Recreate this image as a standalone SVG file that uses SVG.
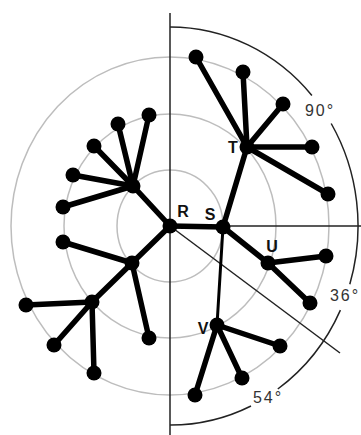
<svg xmlns="http://www.w3.org/2000/svg" width="361" height="435" viewBox="0 0 361 435">
<style>
.ring{fill:none;stroke:#bdbdbd;stroke-width:1.5}
.axis{fill:none;stroke:#222;stroke-width:1.5}
.edge{stroke:#000;stroke-width:5.5;stroke-linecap:round}
.thin{stroke:#000;stroke-width:3;stroke-linecap:round}
.leaf{fill:#000}
.lbl{font-family:"Liberation Sans",Arial,sans-serif;font-size:16px;font-weight:bold;fill:#111}
.deg{font-family:"Liberation Sans",Arial,sans-serif;font-size:16px;fill:#333;letter-spacing:2px}
</style>
<rect width="361" height="435" fill="#fff"/>
<g id="rings">
<ellipse class="ring" cx="170" cy="226" rx="53" ry="56"/>
<ellipse class="ring" cx="170" cy="226" rx="106" ry="112"/>
<ellipse class="ring" cx="170" cy="226" rx="159" ry="169"/>
</g>
<g id="axes">
<line class="axis" x1="170" y1="13" x2="170" y2="435"/>
<line class="axis" x1="170" y1="226" x2="361" y2="226"/>
<line class="axis" x1="170" y1="226" x2="340" y2="353"/>
<path class="axis" d="M170,27 A188,199 0 0,1 311.9,95.5 M331.2,123.5 A188,199 0 0,1 349.8,284.2 M340.4,310.1 A188,199 0 0,1 277.8,389 M251,406 A188,199 0 0,1 170,425"/>
</g>
<g id="connectors">
<line class="edge" x1="170" y1="226" x2="223" y2="227"/>
<line class="edge" x1="170" y1="226" x2="133" y2="186"/>
<line class="edge" x1="170" y1="226" x2="132" y2="263"/>
<line class="edge" x1="133" y1="186" x2="149" y2="115"/>
<line class="edge" x1="133" y1="186" x2="118" y2="124"/>
<line class="edge" x1="133" y1="186" x2="94" y2="146"/>
<line class="edge" x1="133" y1="186" x2="73" y2="175"/>
<line class="edge" x1="133" y1="186" x2="63" y2="207"/>
<line class="edge" x1="132" y1="263" x2="63" y2="242"/>
<line class="edge" x1="132" y1="263" x2="149" y2="338"/>
<line class="edge" x1="132" y1="263" x2="92" y2="302"/>
<line class="edge" x1="92" y1="302" x2="26" y2="305"/>
<line class="edge" x1="92" y1="302" x2="54" y2="345"/>
<line class="edge" x1="92" y1="302" x2="94" y2="373"/>
<line class="edge" x1="223" y1="227" x2="247" y2="147"/>
<line class="edge" x1="247" y1="147" x2="196" y2="57"/>
<line class="edge" x1="247" y1="147" x2="243" y2="72"/>
<line class="edge" x1="247" y1="147" x2="283" y2="104"/>
<line class="edge" x1="247" y1="147" x2="312" y2="147"/>
<line class="edge" x1="247" y1="147" x2="328" y2="194"/>
<line class="edge" x1="223" y1="227" x2="268" y2="263"/>
<line class="edge" x1="268" y1="263" x2="326" y2="256"/>
<line class="edge" x1="268" y1="263" x2="310" y2="303"/>
<line class="thin" x1="223" y1="227" x2="217" y2="325"/>
<line class="edge" x1="217" y1="325" x2="280" y2="346"/>
<line class="edge" x1="217" y1="325" x2="242" y2="378"/>
<line class="edge" x1="217" y1="325" x2="195" y2="395"/>
</g>
<g id="R"><circle class="leaf" cx="170" cy="226" r="7.5"/><text class="lbl" x="183" y="217" text-anchor="middle">R</text></g>
<g id="S"><circle class="leaf" cx="223" cy="227" r="7.5"/><text class="lbl" x="210" y="220" text-anchor="middle">S</text></g>
<g id="T"><circle class="leaf" cx="247" cy="147" r="7.5"/><text class="lbl" x="233" y="153" text-anchor="middle">T</text></g>
<g id="U"><circle class="leaf" cx="268" cy="263" r="7.5"/><text class="lbl" x="272" y="252" text-anchor="middle">U</text></g>
<g id="V"><circle class="leaf" cx="217" cy="325" r="7.5"/><text class="lbl" x="203" y="334" text-anchor="middle">V</text></g>
<g id="A"><circle class="leaf" cx="133" cy="186" r="7.5"/></g>
<g id="B"><circle class="leaf" cx="132" cy="263" r="7.5"/></g>
<g id="C"><circle class="leaf" cx="92" cy="302" r="7.5"/></g>
<g id="leaves">
<circle class="leaf" cx="149" cy="115" r="7.5"/>
<circle class="leaf" cx="118" cy="124" r="7.5"/>
<circle class="leaf" cx="94" cy="146" r="7.5"/>
<circle class="leaf" cx="73" cy="175" r="7.5"/>
<circle class="leaf" cx="63" cy="207" r="7.5"/>
<circle class="leaf" cx="63" cy="242" r="7.5"/>
<circle class="leaf" cx="149" cy="338" r="7.5"/>
<circle class="leaf" cx="26" cy="305" r="7.5"/>
<circle class="leaf" cx="54" cy="345" r="7.5"/>
<circle class="leaf" cx="94" cy="373" r="7.5"/>
<circle class="leaf" cx="196" cy="57" r="7.5"/>
<circle class="leaf" cx="243" cy="72" r="7.5"/>
<circle class="leaf" cx="283" cy="104" r="7.5"/>
<circle class="leaf" cx="312" cy="147" r="7.5"/>
<circle class="leaf" cx="328" cy="194" r="7.5"/>
<circle class="leaf" cx="326" cy="256" r="7.5"/>
<circle class="leaf" cx="310" cy="303" r="7.5"/>
<circle class="leaf" cx="280" cy="346" r="7.5"/>
<circle class="leaf" cx="242" cy="378" r="7.5"/>
<circle class="leaf" cx="195" cy="395" r="7.5"/>
</g>
<g id="angles">
<text class="deg" x="320" y="116" text-anchor="middle">90°</text>
<text class="deg" x="345" y="301" text-anchor="middle">36°</text>
<text class="deg" x="268" y="403" text-anchor="middle">54°</text>
</g>
</svg>
